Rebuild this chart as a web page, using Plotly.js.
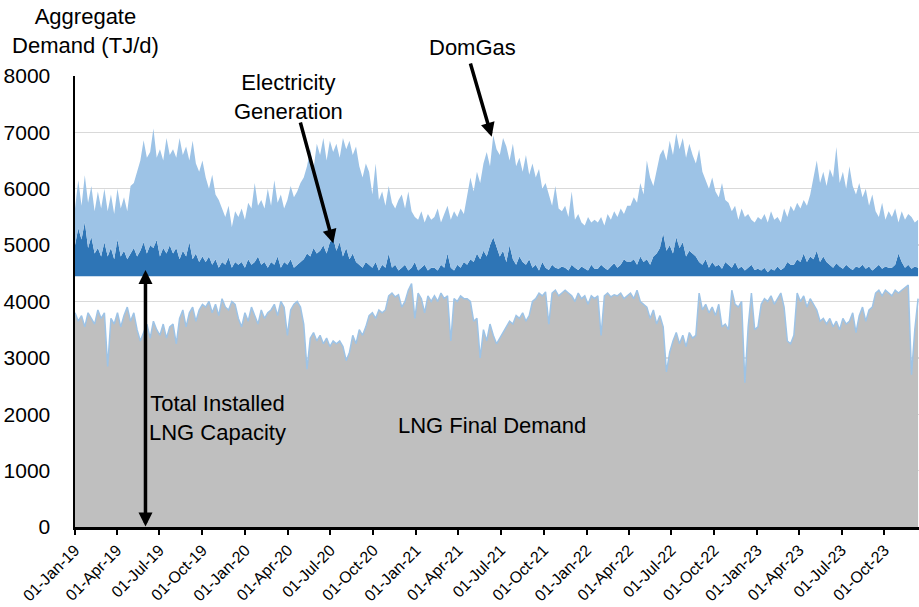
<!DOCTYPE html>
<html>
<head>
<meta charset="utf-8">
<script src="https://cdn.plot.ly/plotly-3.0.1.min.js"></script>
<style>html,body{margin:0;padding:0;background:#fff;}#chart{width:919px;height:607px;}</style>
</head>
<body>
<div id="chart"></div>
<script>
// Weekly samples starting 01-Jan-2019
const startDate = '2019-01-01';
const stepDays = 7;
const lngCapacity = 4450; // TJ/d, total installed LNG capacity

const lngFinalDemand = [
3800,3650,3750,3550,3800,3700,3600,3850,3700,3800,
2850,3700,3600,3800,3550,3750,3900,3650,3800,3500,
3300,3450,3600,3350,3650,3500,3400,3600,3350,3550,
3600,3250,3700,3850,3550,3800,3900,3650,3850,3950,
3900,4000,3800,3950,3750,4050,3900,3850,4000,3950,
3700,3550,3800,3650,3900,3750,3600,3850,3700,3800,
3850,3950,3750,4000,3900,3400,3850,3950,4000,3900,
3600,2800,3350,3450,3300,3400,3250,3350,3200,3300,
3250,3300,3200,2950,3100,3400,3250,3500,3400,3550,
3750,3800,3700,3850,3800,3850,4100,4150,4080,4120,
3900,4000,4200,4320,3700,4150,4050,3800,4100,4000,
4100,4000,4150,4050,4100,3300,4050,4000,4100,4050,
4050,4000,3650,3700,3000,3500,3300,3600,3400,3250,
3350,3450,3550,3650,3600,3750,3700,3800,3650,3750,
4000,4050,4150,4100,4170,3600,4150,4200,4100,4150,
4200,4150,4100,4000,4150,4050,4100,3950,4100,4050,
4100,3400,4100,4150,4080,4120,4100,4150,4050,4100,
4150,4050,4200,4000,3950,3900,3700,3850,3600,3750,
3550,2750,3100,3300,3450,3250,3400,3200,3450,3350,
3400,4150,3850,3950,3800,3900,3750,3950,3550,3600,
3500,4200,3950,3900,4000,2560,3550,4150,3500,3550,
3950,4050,4000,4100,3950,4050,4150,3900,3300,3250,
3400,4150,4000,4100,3900,4050,3950,3850,3650,3700,
3600,3700,3550,3650,3500,3700,3600,3650,3800,3450,
3750,3900,3650,3850,3900,4150,4200,4100,4200,4150,
4100,4200,4150,4200,4250,4290,2700,3500,4050
];

const electricityGeneration = [
550,850,650,960,500,700,400,500,350,600,
350,500,300,650,350,450,300,400,500,350,
450,600,400,550,500,640,350,500,400,550,
400,500,300,450,350,600,300,400,250,350,
250,350,200,300,150,250,200,330,150,250,
200,250,150,300,200,250,350,200,250,150,
250,200,350,150,250,200,300,150,200,250,
300,400,350,500,400,450,550,400,600,670,
450,600,350,500,300,400,250,200,150,250,
200,150,250,100,200,150,400,150,200,100,
150,200,100,150,250,100,150,200,100,150,
150,100,200,150,400,150,100,200,150,250,
200,300,250,400,300,450,350,550,690,500,
350,450,250,550,300,200,350,250,200,300,
150,200,100,250,150,110,200,150,130,170,
150,100,200,150,110,170,130,100,200,130,
130,200,150,110,170,230,150,200,300,250,
250,300,200,350,250,300,200,350,400,500,
760,450,550,400,690,500,600,350,450,400,
350,250,200,300,150,250,170,200,130,250,
200,150,250,130,170,100,150,200,110,130,
100,150,70,130,100,170,110,150,250,200,
200,300,250,400,250,350,300,450,250,350,
250,200,150,230,170,130,200,150,110,170,
150,200,130,170,100,150,200,130,170,150,
150,200,400,250,150,200,130,170,150
];

const domGas = [
650,850,600,830,800,900,750,1000,850,950,
800,950,800,900,850,950,850,1200,1150,1480,
1600,1810,1700,1650,2120,1460,1900,1550,2050,1600,
1850,1600,2150,1700,1950,1450,2100,1600,1600,1700,
1500,1200,1600,1150,1200,950,850,920,720,900,
850,950,850,1000,1000,1400,900,1150,950,1400,
1000,1500,950,1300,950,1150,1300,1250,1300,1400,
1450,1550,1900,1400,1950,1700,1900,1650,1800,1530,
1900,1500,2100,1750,2100,1750,2050,1750,1600,1750,
1650,1300,1750,1250,1300,1100,1200,1150,1000,1250,
1300,1000,1400,1000,800,900,1000,750,1000,850,
900,1100,750,950,850,850,1050,850,1050,850,
1250,1450,1250,1450,1350,1550,1850,1400,1810,1750,
1800,2000,2050,1500,2050,1750,1750,1600,1950,1500,
1850,1550,1800,1300,1500,1340,1050,1450,1070,980,
1100,950,1300,850,990,780,770,950,750,870,
820,850,750,990,830,920,900,1000,800,1000,
1000,1100,1100,1300,1200,1750,1550,1250,1500,1650,
1490,1600,1850,1750,1845,1750,1850,1750,1900,1750,
1650,2000,1650,1400,1400,1500,1330,1200,1520,1100,
1100,1000,1000,870,1030,950,950,800,840,920,
900,950,880,1020,900,880,840,1050,800,1050,
950,1000,950,950,1000,1100,1450,1600,1400,1500,
1350,1700,1600,2060,1480,1720,1350,1800,1490,1280,
1500,1200,1420,1080,1350,1000,850,1170,830,1000,
900,1000,550,900,850,900,920,780,850
];

const yTicks = [0,1000,2000,3000,4000,5000,6000,7000,8000];
const xTicks = ['2019-01-01','2019-04-01','2019-07-01','2019-10-01','2020-01-01','2020-04-01','2020-07-01','2020-10-01',
  '2021-01-01','2021-04-01','2021-07-01','2021-10-01','2022-01-01','2022-04-01','2022-07-01','2022-10-01',
  '2023-01-01','2023-04-01','2023-07-01','2023-10-01'];

// build dates
const dates = [];
for (let i = 0; i < lngFinalDemand.length; i++) {
  const d = new Date(startDate + 'T00:00:00Z');
  d.setUTCDate(d.getUTCDate() + stepDays * i);
  dates.push(d.toISOString().slice(0, 10));
}
const capArr = dates.map(() => lngCapacity);

const FONT = 'Arial, "Liberation Sans", sans-serif';
const LIGHT = '#9DC3E6', DARK = '#2E75B6', GREY = '#BFBFBF';

const traces = [
  {x: dates, y: lngFinalDemand, type: 'scatter', mode: 'lines', fill: 'tozeroy',
   fillcolor: GREY, line: {color: LIGHT, width: 1.5}, name: 'LNG Final Demand', hoverinfo: 'skip'},
  {x: dates, y: capArr, type: 'scatter', mode: 'lines', stackgroup: 'top',
   fillcolor: 'rgba(0,0,0,0)', line: {width: 0}, name: 'Capacity', hoverinfo: 'skip'},
  {x: dates, y: electricityGeneration, type: 'scatter', mode: 'lines', stackgroup: 'top',
   fillcolor: DARK, line: {width: 0, color: DARK}, name: 'Electricity Generation', hoverinfo: 'skip'},
  {x: dates, y: domGas, type: 'scatter', mode: 'lines', stackgroup: 'top',
   fillcolor: LIGHT, line: {width: 0, color: LIGHT}, name: 'DomGas', hoverinfo: 'skip'}
];

const arrowCommon = {text: '', showarrow: true, arrowhead: 2, arrowsize: 0.8, arrowwidth: 3.5,
  arrowcolor: '#000', xref: 'paper', yref: 'paper', axref: 'pixel', ayref: 'pixel'};
const annFont = {family: FONT, size: 22, color: '#000'};

const layout = {
  width: 919, height: 607,
  margin: {l: 75, r: 0, t: 76, b: 80},
  paper_bgcolor: '#fff', plot_bgcolor: '#fff',
  showlegend: false,
  font: {family: FONT, color: '#000'},
  title: {text: 'Aggregate<br>Demand (TJ/d)', font: {family: FONT, size: 22, color: '#000'},
    xref: 'container', yref: 'container', x: 0.093, xanchor: 'center', y: 0.96, yanchor: 'middle'},
  xaxis: {type: 'date', range: ['2019-01-01', '2023-12-14'],
    tickmode: 'array', tickvals: xTicks,
    tickformat: '%d-%b-%y', tickangle: -45, tickfont: {family: FONT, size: 16, color: '#000'},
    ticks: 'outside', ticklen: 5, tickwidth: 2, tickcolor: '#000',
    showline: true, linecolor: '#000', linewidth: 2.5, showgrid: false, zeroline: false, fixedrange: true},
  yaxis: {range: [0, 8000], tickmode: 'array', tickvals: yTicks, ticktext: yTicks.map(String),
    tickfont: {family: FONT, size: 21, color: '#000'}, ticks: '', ticklabelstandoff: 18,
    showline: true, linecolor: '#000', linewidth: 2.5, showgrid: true, gridcolor: '#D9D9D9', gridwidth: 1.3,
    zeroline: false, fixedrange: true},
  annotations: [
    {text: 'DomGas', x: 0.4704, y: 1.064, xref: 'paper', yref: 'paper', showarrow: false,
     font: annFont, xanchor: 'center', yanchor: 'middle'},
    Object.assign({}, arrowCommon, {x: 0.4937, y: 0.8654, ax: -21.7, ay: -74.7}),
    {text: 'Electricity<br>Generation', x: 0.2524, y: 0.9534, xref: 'paper', yref: 'paper', showarrow: false,
     font: annFont, xanchor: 'center', yanchor: 'middle'},
    Object.assign({}, arrowCommon, {x: 0.306, y: 0.629, ax: -33.3, ay: -122.3}),
    Object.assign({}, arrowCommon, {x: 0.0835, y: 0.5698, ax: 0, ay: 258, arrowside: 'end+start'}),
    {text: 'Total Installed<br>LNG Capacity', x: 0.1694, y: 0.2417, xref: 'paper', yref: 'paper', showarrow: false,
     font: annFont, xanchor: 'center', yanchor: 'middle'},
    {text: 'LNG Final Demand', x: 0.494, y: 0.224, xref: 'paper', yref: 'paper', showarrow: false,
     font: annFont, xanchor: 'center', yanchor: 'middle'}
  ]
};

Plotly.newPlot('chart', traces, layout, {displayModeBar: false, staticPlot: true});
</script>
</body>
</html>
